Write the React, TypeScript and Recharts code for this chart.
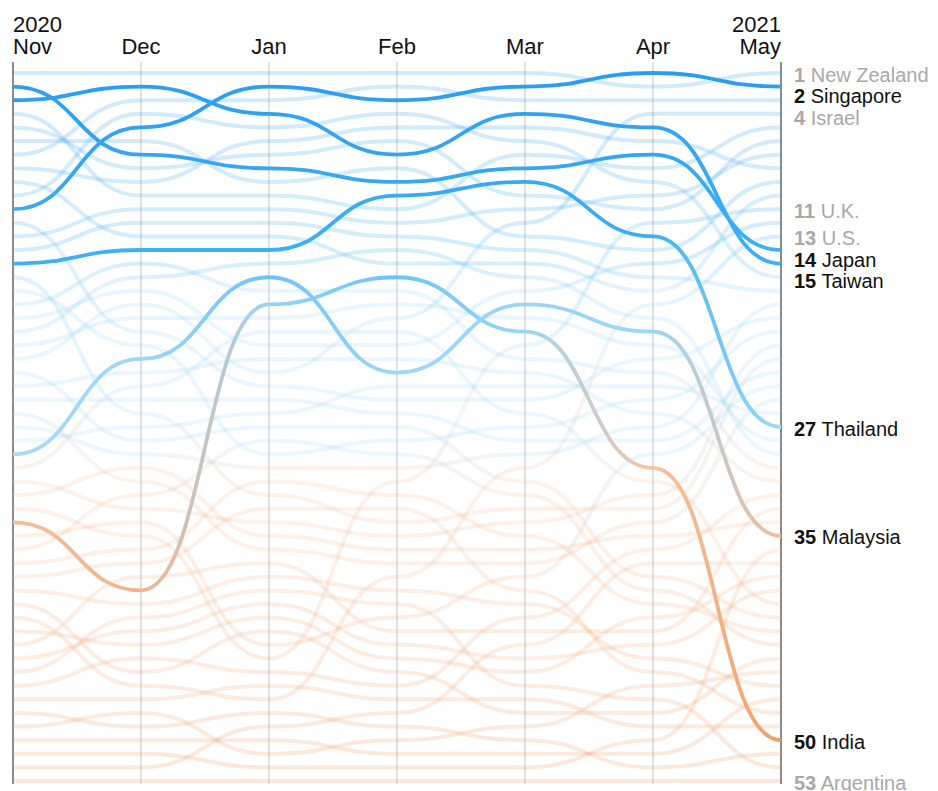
import { LineChart, Line, XAxis, YAxis, CartesianGrid, ReferenceLine } from 'recharts';

const months = ['Nov', 'Dec', 'Jan', 'Feb', 'Mar', 'Apr', 'May'];
const yearLabels = ['2020', '', '', '', '', '', '2021'];

// each month: economies ordered from rank 1 to rank 53
const rankNov = [
	'New Zealand', 'Japan', 'Taiwan', 'South Korea', 'Finland', 'Norway', 'Australia', 'China', 'Denmark', 'Vietnam',
	'Singapore', 'Canada', 'Hong Kong', 'Saudi Arabia', 'Thailand', 'Germany', 'Ireland', 'Pakistan', 'UAE', 'Nigeria',
	'Egypt', 'Israel', 'Turkey', 'Indonesia', 'Chile', 'Sweden', 'Switzerland', 'Russia', 'Malaysia', 'Bangladesh',
	'Austria', 'South Africa', 'U.K.', 'India', 'Portugal', 'Philippines', 'Romania', 'Ukraine', 'Iran', 'Poland',
	'U.S.', 'Italy', 'France', 'Netherlands', 'Hungary', 'Spain', 'Colombia', 'Brazil', 'Czech Republic', 'Peru',
	'Belgium', 'Mexico', 'Argentina',
];
const rankDec = [
	'New Zealand', 'Taiwan', 'Australia', 'Vietnam', 'Singapore', 'Norway', 'Japan', 'Finland', 'China', 'South Korea',
	'Hong Kong', 'Saudi Arabia', 'Denmark', 'Thailand', 'Pakistan', 'Nigeria', 'UAE', 'Israel', 'Egypt', 'Canada',
	'Ireland', 'Malaysia', 'Indonesia', 'Bangladesh', 'Chile', 'Germany', 'Russia', 'Turkey', 'Switzerland', 'South Africa',
	'Sweden', 'Philippines', 'Austria', 'Portugal', 'U.K.', 'Romania', 'Ukraine', 'France', 'India', 'Iran',
	'Hungary', 'Netherlands', 'Italy', 'Spain', 'Poland', 'U.S.', 'Colombia', 'Czech Republic', 'Brazil', 'Peru',
	'Belgium', 'Mexico', 'Argentina',
];
const rankJan = [
	'New Zealand', 'Singapore', 'Australia', 'Taiwan', 'Vietnam', 'China', 'Finland', 'Japan', 'Norway', 'South Korea',
	'Hong Kong', 'Saudi Arabia', 'Denmark', 'Thailand', 'Nigeria', 'Malaysia', 'Pakistan', 'India', 'Egypt', 'Bangladesh',
	'UAE', 'Indonesia', 'Israel', 'Canada', 'Chile', 'Russia', 'Turkey', 'Philippines', 'Ireland', 'Switzerland',
	'Romania', 'Germany', 'Ukraine', 'Austria', 'South Africa', 'Sweden', 'France', 'Iran', 'Hungary', 'Netherlands',
	'Italy', 'Poland', 'Portugal', 'U.K.', 'Spain', 'Colombia', 'U.S.', 'Brazil', 'Mexico', 'Peru',
	'Czech Republic', 'Belgium', 'Argentina',
];
const rankFeb = [
	'New Zealand', 'Australia', 'Singapore', 'Vietnam', 'China', 'Finland', 'Taiwan', 'Norway', 'Japan', 'Thailand',
	'South Korea', 'Hong Kong', 'Saudi Arabia', 'Nigeria', 'Denmark', 'India', 'Pakistan', 'Egypt', 'Israel', 'Bangladesh',
	'UAE', 'Indonesia', 'Malaysia', 'Russia', 'Canada', 'Chile', 'Turkey', 'Ireland', 'Philippines', 'Switzerland',
	'U.K.', 'Romania', 'Ukraine', 'Germany', 'Austria', 'South Africa', 'Sweden', 'U.S.', 'Iran', 'Hungary',
	'Portugal', 'France', 'Netherlands', 'Italy', 'Poland', 'Spain', 'Colombia', 'Mexico', 'Brazil', 'Czech Republic',
	'Peru', 'Belgium', 'Argentina',
];
const rankMar = [
	'New Zealand', 'Singapore', 'Australia', 'Taiwan', 'China', 'Vietnam', 'South Korea', 'Japan', 'Thailand', 'Finland',
	'Hong Kong', 'Israel', 'Norway', 'Saudi Arabia', 'Denmark', 'Nigeria', 'UAE', 'Malaysia', 'Egypt', 'India',
	'U.K.', 'Pakistan', 'Indonesia', 'Russia', 'Canada', 'Bangladesh', 'Ireland', 'Chile', 'Switzerland', 'U.S.',
	'Turkey', 'Philippines', 'Germany', 'Austria', 'Romania', 'South Africa', 'Sweden', 'Portugal', 'Ukraine', 'Iran',
	'Spain', 'France', 'Mexico', 'Netherlands', 'Italy', 'Hungary', 'Colombia', 'Poland', 'Czech Republic', 'Brazil',
	'Peru', 'Belgium', 'Argentina',
];
const rankApr = [
	'Singapore', 'New Zealand', 'Australia', 'Israel', 'Taiwan', 'China', 'Japan', 'South Korea', 'Vietnam', 'Hong Kong',
	'Finland', 'U.K.', 'Thailand', 'Norway', 'UAE', 'Saudi Arabia', 'Denmark', 'U.S.', 'Nigeria', 'Malaysia',
	'Egypt', 'Canada', 'Pakistan', 'Russia', 'Ireland', 'Indonesia', 'Switzerland', 'Chile', 'Portugal', 'India',
	'Bangladesh', 'Austria', 'Germany', 'Sweden', 'South Africa', 'Spain', 'Mexico', 'Turkey', 'Philippines', 'Romania',
	'Italy', 'France', 'Netherlands', 'Iran', 'Ukraine', 'Czech Republic', 'Hungary', 'Poland', 'Colombia', 'Belgium',
	'Peru', 'Brazil', 'Argentina',
];
const rankMay = [
	'New Zealand', 'Singapore', 'Australia', 'Israel', 'South Korea', 'Finland', 'Hong Kong', 'China', 'Norway', 'Denmark',
	'U.K.', 'UAE', 'U.S.', 'Japan', 'Taiwan', 'Vietnam', 'Saudi Arabia', 'Switzerland', 'Canada', 'Ireland',
	'Austria', 'Germany', 'Chile', 'Portugal', 'Sweden', 'Russia', 'Thailand', 'Egypt', 'Nigeria', 'Pakistan',
	'Indonesia', 'Spain', 'France', 'South Africa', 'Malaysia', 'Belgium', 'Mexico', 'Italy', 'Netherlands', 'Bangladesh',
	'Turkey', 'Romania', 'Philippines', 'Poland', 'Czech Republic', 'Iran', 'Peru', 'Ukraine', 'Colombia', 'India',
	'Brazil', 'Hungary', 'Argentina',
];
const rankings = [rankNov, rankDec, rankJan, rankFeb, rankMar, rankApr, rankMay];

const highlighted = ['India', 'Malaysia', 'Thailand', 'Taiwan', 'Japan', 'Singapore'];
const labelled = ['New Zealand', 'Singapore', 'Israel', 'U.K.', 'U.S.', 'Japan', 'Taiwan', 'Thailand', 'Malaysia', 'India', 'Argentina'];

const data = months.map((month, i) => {
	const row: Record<string, string | number> = { month };
	rankings[i].forEach((country, j) => {
		row[country] = j + 1;
	});
	return row;
});

// layout
const W = 930;
const H = 783;
const margin = { top: 0, right: 0, bottom: 7, left: 5 };
const yAxisW = 157;
const plotLeft = margin.left;
const plotRight = W - margin.right - yAxisW;
const FONT = '"Liberation Sans", Arial, Helvetica, sans-serif';

// blue for the upper ranks, orange for the lower ones
const blueStops: [number, string][] = [[1, '#2b9cf0'], [15, '#3fb2f4'], [17, '#96d4f7'], [29, '#a4dbf8']];
const orangeStops: [number, string][] = [[30, '#f5c4a2'], [40, '#f3b288'], [53, '#f2975a']];

function hexToRgb(h: string) {
	const n = parseInt(h.slice(1), 16);
	return [(n >> 16) & 255, (n >> 8) & 255, n & 255];
}

function rankColor(rank: number) {
	const stops = rank <= 29 ? blueStops : orangeStops;
	if (rank <= stops[0][0]) return stops[0][1];
	for (let i = 1; i < stops.length; i++) {
		if (rank <= stops[i][0]) {
			const t = (rank - stops[i - 1][0]) / (stops[i][0] - stops[i - 1][0]);
			const a = hexToRgb(stops[i - 1][1]);
			const b = hexToRgb(stops[i][1]);
			const c = a.map((v, k) => Math.round(v + (b[k] - v) * t));
			return `rgb(${c[0]},${c[1]},${c[2]})`;
		}
	}
	return stops[stops.length - 1][1];
}

// push labels down so they don't overlap
const labelGap = 1.6;
let prevPos = -Infinity;
const labelSlots = labelled
	.map((name) => ({ name, rank: rankMay.indexOf(name) + 1 }))
	.sort((a, b) => a.rank - b.rank)
	.map((l) => {
		const pos = Math.max(l.rank, prevPos + labelGap);
		prevPos = pos;
		return { ...l, pos };
	});

const countries = rankMay;
const background = countries.filter((c) => !highlighted.includes(c));

function MonthTick({ x, y, payload, index }: any) {
	const anchor = index === 0 ? 'start' : index === months.length - 1 ? 'end' : 'middle';
	const year = yearLabels[index];
	return (
		<g>
			{year && (
				<text x={x} y={y - 22} textAnchor={anchor} fill="#111" fontSize={22} fontFamily={FONT}>
					{year}
				</text>
			)}
			<text x={x} y={y} textAnchor={anchor} fill="#111" fontSize={22} fontFamily={FONT}>
				{payload.value}
			</text>
		</g>
	);
}

function RankTick({ x, y, payload }: any) {
	const slot = labelSlots.find((s) => Math.abs(s.pos - payload.value) < 1e-6);
	if (!slot) return null;
	const isHi = highlighted.includes(slot.name);
	return (
		<text x={x + 5} y={y} dy={8.5} textAnchor="start" fill={isHi ? '#111' : '#a8a8a8'} fontSize={20} fontFamily={FONT}>
			<tspan fontWeight="bold">{slot.rank}</tspan> {slot.name}
		</text>
	);
}

export default function App() {
	const lineFor = (country: string, hi: boolean) => {
		const idx = countries.indexOf(country);
		return (
			<Line
				key={country}
				dataKey={country}
				type="bumpX"
				stroke={`url(#rk-${idx})`}
				strokeWidth={hi ? 3.8 : 4}
				strokeOpacity={hi ? 1 : 0.22}
				dot={false}
				activeDot={false}
				isAnimationActive={false}
			/>
		);
	};

	return (
		<div style={{ width: W, height: H, fontFamily: FONT }}>
			<style>{'html, body { overflow: hidden; }'}</style>
			<LineChart width={W} height={H} data={data} margin={margin}>
				<defs>
					{countries.map((country, idx) => (
						<linearGradient key={country} id={`rk-${idx}`} gradientUnits="userSpaceOnUse" x1={plotLeft} y1={0} x2={plotRight} y2={0}>
							{rankings.map((list, i) => (
								<stop key={i} offset={`${(i / (months.length - 1)) * 100}%`} stopColor={rankColor(list.indexOf(country) + 1)} />
							))}
						</linearGradient>
					))}
				</defs>
				<CartesianGrid horizontal={false} stroke="#d6d6d6" strokeWidth={1.5} />
				<XAxis
					dataKey="month"
					orientation="top"
					height={54}
					axisLine={false}
					tickLine={false}
					interval={0}
					tick={<MonthTick />}
				/>
				<YAxis
					orientation="right"
					type="number"
					domain={[1, 53]}
					reversed
					width={yAxisW}
					padding={{ top: 11, bottom: 3 }}
					ticks={labelSlots.map((s) => s.pos)}
					interval={0}
					axisLine={false}
					tickLine={false}
					tick={<RankTick />}
				/>
				<ReferenceLine x="Nov" stroke="#8a8a8a" strokeWidth={2} />
				<ReferenceLine x="May" stroke="#8a8a8a" strokeWidth={2} />
				{background.map((c) => lineFor(c, false))}
				{highlighted.map((c) => lineFor(c, true))}
			</LineChart>
		</div>
	);
}
